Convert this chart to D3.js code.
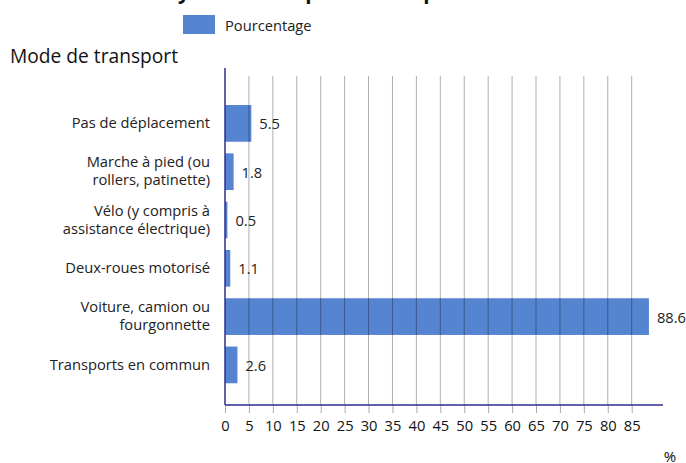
<!DOCTYPE html>
<html>
<head>
<meta charset="utf-8">
<script src="https://cdn.jsdelivr.net/npm/d3@7"></script>
<style>
  html, body { margin: 0; padding: 0; background: #fff; }
  svg { display: block; font-family: "Open Sans", "Noto Sans", sans-serif; }
</style>
</head>
<body>
<svg id="chart" width="686" height="463"></svg>
<script>
// Share of each transport mode (%)
const categories = [
  ["Pas de déplacement"],
  ["Marche à pied (ou", "rollers, patinette)"],
  ["Vélo (y compris à", "assistance électrique)"],
  ["Deux-roues motorisé"],
  ["Voiture, camion ou", "fourgonnette"],
  ["Transports en commun"]
];
const values = [5.5, 1.8, 0.5, 1.1, 88.6, 2.6];
const tickValues = [0, 5, 10, 15, 20, 25, 30, 35, 40, 45, 50, 55, 60, 65, 70, 75, 80, 85];
const seriesName = "Pourcentage";
const yTitle = "Mode de transport";
const xUnit = "%";
const chartTitle = "Moyen de transport utilisé pour aller travailler";

const svg = d3.select("#chart");
const barColor = "#5584d0";
const axisColor = "#2e2e8e";
const fs = 14.7;

const plotLeft = 225, axisEnd = 663, plotTop = 83.3, plotBottom = 405;

const x = d3.scaleLinear().domain([0, 85]).range([plotLeft, 631.7]);
const keys = categories.map((c, i) => i);
const y = d3.scaleBand().domain(keys).range([plotTop, plotBottom])
  .paddingInner(0.24).paddingOuter(0.45);

// Title (top of the page)
svg.append("text")
  .attr("x", 146).attr("y", -1)
  .attr("font-size", 20.5).attr("font-weight", "bold").attr("fill", "#111")
  .text(chartTitle);

// Legend
svg.append("rect").attr("x", 183).attr("y", 15).attr("width", 32).attr("height", 19).attr("fill", barColor);
svg.append("text").attr("x", 225).attr("y", 31).attr("font-size", fs).attr("fill", "#222").text(seriesName);

// Y axis title
svg.append("text").attr("x", 10).attr("y", 63).attr("font-size", 19.2).attr("fill", "#111").text(yTitle);

// Bars
svg.append("g").selectAll("rect").data(values).join("rect")
  .attr("x", x(0))
  .attr("y", (d, i) => y(i))
  .attr("width", d => x(d) - x(0))
  .attr("height", y.bandwidth())
  .attr("fill", barColor);

// Vertical grid lines, drawn over the bars
svg.append("g").selectAll("line").data(tickValues.filter(t => t > 0)).join("line")
  .attr("x1", d => x(d)).attr("x2", d => x(d))
  .attr("y1", 76).attr("y2", plotBottom)
  .attr("stroke", "rgba(0,0,0,0.32)").attr("stroke-width", 1);

// X axis
const xAxis = d3.axisBottom(x).tickValues(tickValues).tickSize(8).tickPadding(8).tickFormat(d3.format("d"));
const gx = svg.append("g").attr("transform", `translate(0,${plotBottom})`).call(xAxis);
gx.select(".domain").remove();
gx.selectAll(".tick line").attr("stroke", "#aaa");
gx.selectAll(".tick text").attr("font-size", fs).attr("fill", "#111").attr("font-family", "Open Sans, Noto Sans, sans-serif");
svg.append("line").attr("x1", plotLeft).attr("x2", axisEnd).attr("y1", plotBottom).attr("y2", plotBottom)
  .attr("stroke", axisColor).attr("stroke-width", 1.5);
svg.append("text").attr("x", 670).attr("y", 462).attr("text-anchor", "middle")
  .attr("font-size", 15).attr("fill", "#111").text(xUnit);

// Y axis line
svg.append("line").attr("x1", plotLeft).attr("x2", plotLeft).attr("y1", 68).attr("y2", plotBottom)
  .attr("stroke", axisColor).attr("stroke-width", 1.5);

// Category labels
const labels = svg.append("g").selectAll("text").data(categories).join("text")
  .attr("text-anchor", "end").attr("font-size", fs).attr("fill", "#222");
labels.each(function(lines, i) {
  const cy = y(i) + y.bandwidth() / 2;
  const first = cy + 4.8 - (lines.length - 1) * 9;
  d3.select(this).selectAll("tspan").data(lines).join("tspan")
    .attr("x", 210).attr("y", (d, j) => first + j * 18).text(d => d);
});

// Value labels
svg.append("g").selectAll("text").data(values).join("text")
  .attr("x", d => x(d) + 8)
  .attr("y", (d, i) => y(i) + y.bandwidth() / 2 + 6)
  .attr("font-size", fs).attr("fill", "#222")
  .text(d => d3.format(".1f")(d));
</script>
</body>
</html>
